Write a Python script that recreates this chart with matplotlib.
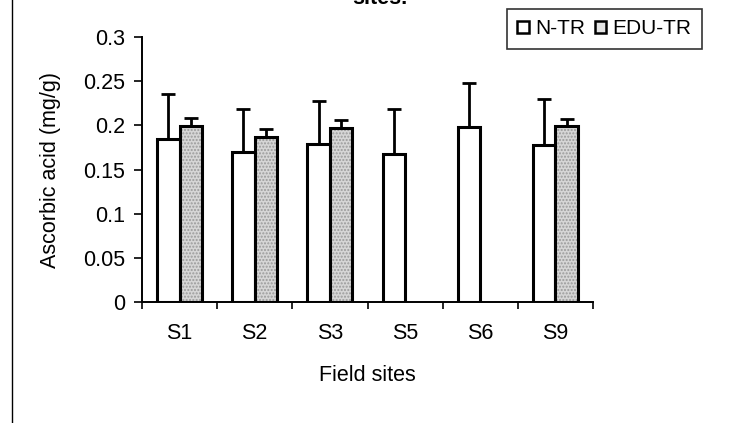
import numpy as np
import matplotlib
matplotlib.use("Agg")
import matplotlib.pyplot as plt
from matplotlib.patches import Patch
from matplotlib.lines import Line2D

plt.rcParams['font.family'] = ['Liberation Sans', 'DejaVu Sans']

sites = ['S1', 'S2', 'S3', 'S5', 'S6', 'S9']
ntr = [0.185, 0.170, 0.179, 0.168, 0.198, 0.178]
ntr_err = [0.051, 0.048, 0.049, 0.050, 0.050, 0.052]
edu = [0.199, 0.187, 0.197, np.nan, np.nan, 0.199]
edu_err = [0.009, 0.009, 0.009, np.nan, np.nan, 0.008]
yticks = [0, 0.05, 0.1, 0.15, 0.2, 0.25, 0.3]
ytick_labels = ['0', '0.05', '0.1', '0.15', '0.2', '0.25', '0.3']

W, H = 742, 423
FS = 15.5
fig = plt.figure(figsize=(W / 100, H / 100), dpi=100)
ax = fig.add_axes([142 / W, (H - 302) / H, (593 - 142) / W, (302 - 37) / H])

centers = np.arange(len(sites)) + 0.5
bw = 0.3
ntr_a = np.array(ntr)
edu_a = np.array(edu)

ax.bar(centers - bw / 2, ntr_a, width=bw, facecolor='white', edgecolor='black',
       linewidth=2.2, zorder=3)
ax.bar(centers + bw / 2, edu_a, width=bw, facecolor='#d6d6d6', edgecolor='#9a9a9a',
       hatch='.....', linewidth=0, zorder=3)
ax.bar(centers + bw / 2, edu_a, width=bw, facecolor='none', edgecolor='black',
       linewidth=2.2, zorder=4)

zeros = np.zeros(len(sites))
ax.errorbar(centers - bw / 2, ntr_a, yerr=[zeros, np.array(ntr_err)], fmt='none',
            ecolor='black', elinewidth=2, capsize=5, capthick=2, zorder=2)
ax.errorbar(centers + bw / 2, edu_a, yerr=[zeros, np.array(edu_err)], fmt='none',
            ecolor='black', elinewidth=2, capsize=5, capthick=2, zorder=2)

ax.set_xlim(0, len(sites))
ax.set_ylim(0, 0.3)
ax.set_yticks(yticks)
ax.set_yticklabels(ytick_labels, fontsize=FS)
ax.set_xticks(np.arange(len(sites) + 1))
ax.set_xticklabels([])
ax.set_xticks(centers, minor=True)
ax.set_xticklabels(sites, minor=True, fontsize=FS)
ax.tick_params(axis='x', which='minor', length=0, pad=15)
ax.tick_params(axis='x', which='major', length=5, width=1.2, direction='out')
ax.tick_params(axis='y', length=6, width=1.2, direction='out', pad=6)

for s in ['top', 'right']:
    ax.spines[s].set_visible(False)
for s in ['left', 'bottom']:
    ax.spines[s].set_linewidth(1.4)

ax.set_ylabel('Ascorbic acid (mg/g)', fontsize=FS, labelpad=16)
ax.set_xlabel('Field sites', fontsize=FS, labelpad=15)

# clipped title line at the top
fig.text(380 / W, 1 - 4 / H, 'sites.', ha='center', va='baseline', fontsize=FS,
         weight='bold')

# frame line on the left edge
fig.add_artist(Line2D([12 / W, 12 / W], [0, 1], color='black', linewidth=1,
                      transform=fig.transFigure))

handles = [Patch(facecolor='white', edgecolor='black', linewidth=1.8),
           Patch(facecolor='#e4e4e4', edgecolor='black', linewidth=1.8)]
leg = fig.legend(handles, ['N-TR', 'EDU-TR'], ncol=2, loc='upper left',
                 bbox_to_anchor=(507 / W, 1 - 47 / H, (702 - 507) / W, 38 / H),
                 mode='expand', frameon=True, fancybox=False, fontsize=15,
                 handlelength=0.55, handleheight=0.55, handletextpad=0.3,
                 columnspacing=0.6, borderaxespad=0, borderpad=0.5)
leg.get_frame().set_edgecolor('black')
leg.get_frame().set_linewidth(1.2)

fig.savefig('out.png', dpi=100)
